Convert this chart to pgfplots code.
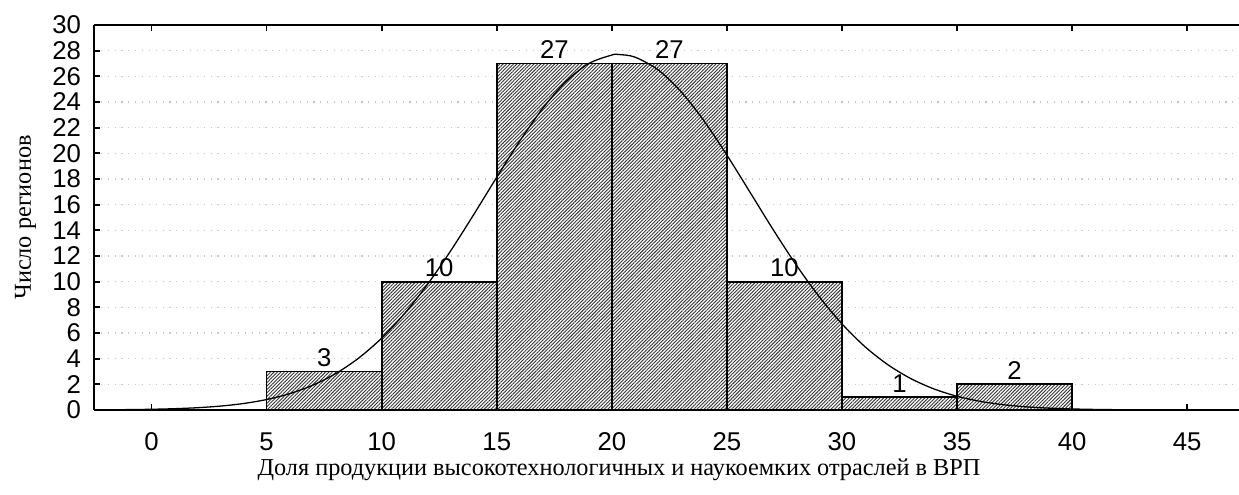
\documentclass[border=0pt]{standalone}
\usepackage{pgfplots}
\pgfplotsset{compat=1.18}
\usepackage{fontspec}
\setmainfont{Liberation Serif}
\newfontfamily\arial{Liberation Sans}
\usetikzlibrary{patterns.meta}
\begin{document}
\begin{tikzpicture}
\begin{axis}[
  at={(0,0)}, anchor=south west,
  scale only axis,
  width=400.75pt, height=134.75pt,
  xmin=-2.5, xmax=47.25, ymin=0, ymax=30,
  separate axis lines,
  axis x line*=box, axis y line*=left,
  axis line style={line width=0.75pt},
  xtick={0,5,...,45}, ytick={0,2,...,30},
  tick align=inside, major tick length=2.2pt,
  tick style={black, line width=0.6pt},
  xtick pos=both, ytick pos=left,
  /pgf/number format/assume math mode=true,
  ticklabel style={font=\arial\fontsize{9}{9}\selectfont},
  xticklabel style={yshift=-4.5pt},
  yticklabel style={xshift=-1pt},
  ymajorgrids,
  grid style={gray!45, dotted, line width=0.45pt},
  xlabel={Доля продукции высокотехнологичных и наукоемких отраслей в ВРП},
  ylabel={Число регионов},
  label style={font=\fontsize{8.5}{10}\selectfont},
  xlabel style={at={([yshift=-21pt]axis description cs:0.4585,0)}, anchor=center},
  ylabel style={at={([xshift=-24pt]axis description cs:0,0.5)}, anchor=center},
  clip=false,
]
\addplot[ybar, bar width=5, bar shift=0pt, draw=black, line width=0.6pt,
  fill=white, postaction={pattern={Lines[angle=45,distance=0.85pt,line width=0.32pt]}, pattern color=black!80},
  nodes near coords,
  every node near coord/.style={font=\arial\fontsize{9}{9}\selectfont, black, inner sep=1.5pt}]
  coordinates {(7.5,3) (12.5,10) (17.5,27) (22.5,27) (27.5,10) (32.5,1) (37.5,2)};
\addplot[black, line width=0.45pt, smooth] table {
x y
-2.5 0.010
-2 0.0154
-1 0.0297
0 0.0556
1 0.1012
2 0.178
3 0.305
4 0.506
5 0.814
6 1.271
7 1.927
8 2.834
9 4.045
10 5.60
11 7.53
12 9.81
13 12.41
14 15.23
15 18.14
16 20.96
17 23.51
18 25.58
19 27.00
20 27.66
20.3 27.70
21 27.50
22 26.52
23 24.82
24 22.54
25 19.86
26 16.98
27 14.08
28 11.33
29 8.85
30 6.71
31 4.93
32 3.52
33 2.437
34 1.638
35 1.068
36 0.675
37 0.414
38 0.247
39 0.143
40 0.080
41 0.0435
42 0.023
43 0.012
44 0.006
45 0.003
46 0.0014
47 0.0006
};
\end{axis}
\pgfresetboundingbox
\useasboundingbox (-32.9pt,-29.75pt) rectangle (400.75pt,143.5pt);
\end{tikzpicture}
\end{document}
